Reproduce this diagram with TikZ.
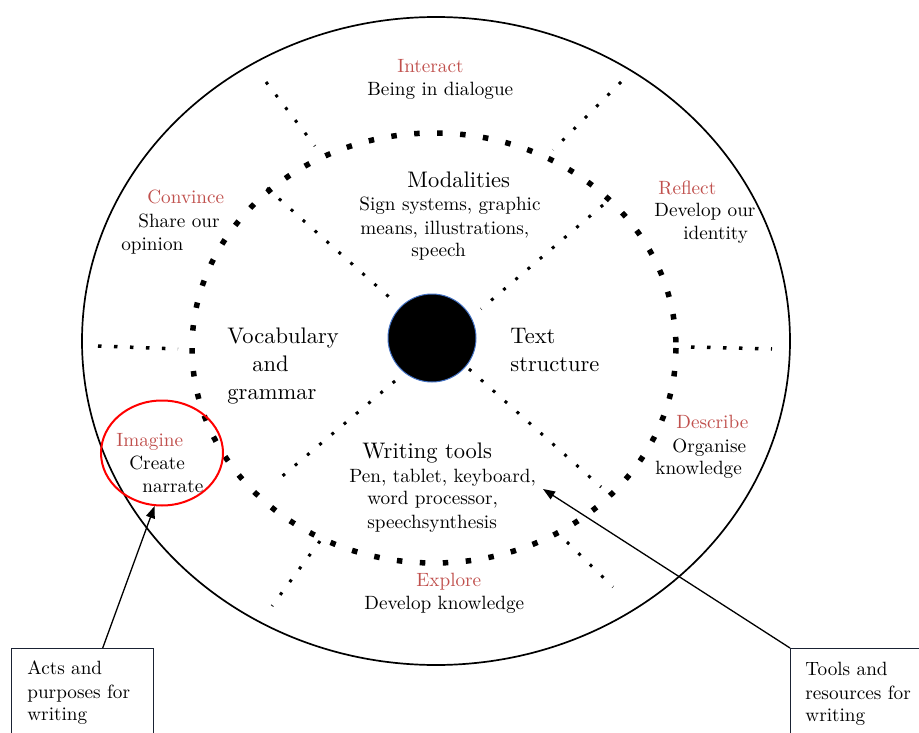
\documentclass[tikz,border=0pt]{standalone}
\usetikzlibrary{arrows.meta,calc,shapes.geometric}
\definecolor{actred}{HTML}{C0504D}
\definecolor{ringblue}{HTML}{4472C4}
\definecolor{boxline}{HTML}{1A2233}
\begin{document}
\begin{tikzpicture}[x=1pt,y=-1pt,
  txt/.style={anchor=base west, inner sep=0pt, font=\fontsize{10}{12}\selectfont, scale=1.92},
  act/.style={txt, text=actred},
  big/.style={anchor=base west, inner sep=0pt, font=\fontsize{10}{12}\selectfont, scale=2.25},
  ring/.style={line width=5.5pt, dash pattern=on 5.5pt off 17.5pt},
  spoke/.style={line width=3pt, dash pattern=on 3pt off 13pt},
  hspoke/.style={line width=3.5pt, dash pattern=on 3.5pt off 12.5pt},
  callout/.style={draw=boxline, line width=1.3pt, inner sep=0pt, anchor=north west},
  pointer/.style={line width=1.3pt, -{Triangle[length=12pt,width=9pt]}}]
\useasboundingbox (0,0) rectangle (919,733);
% outer ellipse and inner dotted ring
\draw[line width=1.7pt] (436,341) ellipse [x radius=354, y radius=324];
\draw[ring] (434,348) ellipse [x radius=242, y radius=215];
% hub
\node[circle, fill=black, draw=ringblue, line width=1pt, minimum size=88pt, inner sep=0pt] (hub) at (432,338) {};
% spoke end points
\coordinate (ulA) at (266,82);  \coordinate (ulB) at (315,146);
\coordinate (ulC) at (267,188); \coordinate (ulD) at (398,305);
\coordinate (urA) at (621,82);  \coordinate (urB) at (553,150);
\coordinate (urC) at (603,205); \coordinate (urD) at (481,309);
\coordinate (lrC) at (469,369); \coordinate (lrD) at (601,487);
\coordinate (lrA) at (567,542); \coordinate (lrB) at (613,587);
\coordinate (llC) at (395,381); \coordinate (llD) at (273,484);
\coordinate (llA) at (320,541); \coordinate (llB) at (272,606);
\coordinate (lfA) at (98,346);  \coordinate (lfB) at (178,349);
\coordinate (rtA) at (691,347); \coordinate (rtB) at (772,349);
\draw[spoke] (ulA) -- (ulB);
\draw[spoke] (ulC) -- (ulD);
\draw[spoke] (urA) -- (urB);
\draw[spoke] (urC) -- (urD);
\draw[spoke] (lrC) -- (lrD);
\draw[spoke] (lrA) -- (lrB);
\draw[spoke] (llC) -- (llD);
\draw[spoke] (llA) -- (llB);
\draw[hspoke] (lfA) -- (lfB);
\draw[hspoke] (rtA) -- (rtB);
% texts
\node[act] (interact) at (397,73) {Interact};
\node[txt] (interact2) at (367,96) {Being in dialogue};
\node[big] (modal) at (407,188) {Modalities};
\node[txt] (modal1) at (359,211) {Sign systems, graphic};
\node[txt] (modal2) at (360,234) {means, illustrations,};
\node[txt] (modal3) at (411,256) {speech};
\node[act] (convince) at (147,204) {Convince};
\node[txt] (convince1) at (138,228) {Share our};
\node[txt] (convince2) at (121,250) {opinion};
\node[act] (reflect) at (658,194) {Reflect};
\node[txt] (reflect1) at (654,217) {Develop our};
\node[txt] (reflect2) at (683,240) {identity};
\node[big] (vocab1) at (227,343) {Vocabulary};
\node[big] (vocab2) at (252,371) {and};
\node[big] (vocab3) at (227,399) {grammar};
\node[big] (text1) at (510,343) {Text};
\node[big] (text2) at (510,371) {structure};
\node[act] (describe) at (676,428) {Describe};
\node[txt] (describe1) at (672,452) {Organise};
\node[txt] (describe2) at (655,474) {knowledge};
\node[act] (imagine) at (116,446) {Imagine};
\node[txt] (imagine1) at (129,469) {Create};
\node[txt] (imagine2) at (142,492) {narrate};
\node[big] (wtools) at (362,458) {Writing tools};
\node[txt] (wtools1) at (349,482) {Pen, tablet, keyboard,};
\node[txt] (wtools2) at (367,504) {word processor,};
\node[txt] (wtools3) at (367,528) {speechsynthesis};
\node[act] (explore) at (416,586) {Explore};
\node[txt] (explore1) at (364,609) {Develop knowledge};
% red highlight
\node[ellipse, draw=red, line width=2pt, minimum width=122pt, minimum height=105pt, inner sep=0pt] (imagring) at (162,453) {};
% callout boxes
\node[callout, minimum width=142pt, minimum height=100pt] (actsbox) at (11,648) {};
\node[callout, minimum width=150pt, minimum height=100pt] (toolsbox) at (790,648) {};
\node[txt] (acts1) at (27,674) {Acts and};
\node[txt] (acts2) at (27,698) {purposes for};
\node[txt] (acts3) at (27,720) {writing};
\node[txt] (tools1) at (805,675) {Tools and};
\node[txt] (tools2) at (805,699) {resources for};
\node[txt] (tools3) at (805,721) {writing};
% pointers
\coordinate (wtip) at (543,489);
\draw[pointer] ($(actsbox.north west)!0.64!(actsbox.north east)$) -- (imagring.262);
\draw[pointer] (toolsbox.north west) -- (wtip);
\end{tikzpicture}
\end{document}
